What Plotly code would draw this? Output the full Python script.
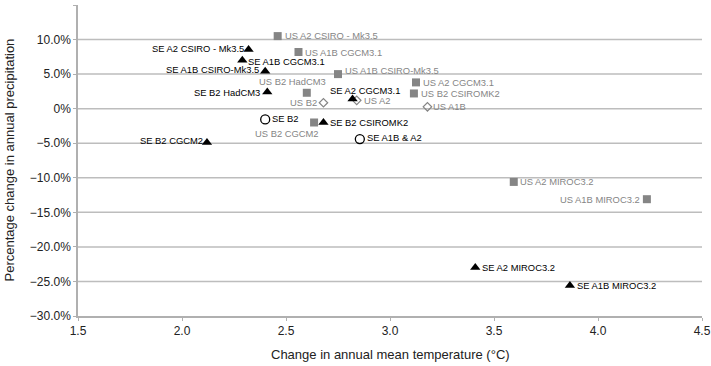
import plotly.graph_objects as go

# ---- data ----
us_sq_names = ["US A2 CSIRO - Mk3.5", "US A1B CGCM3.1", "US A1B CSIRO-Mk3.5", "US B2 HadCM3",
               "US A2 CGCM3.1", "US B2 CSIROMK2", "US B2 CGCM2", "US A2 MIROC3.2", "US A1B MIROC3.2"]
us_sq_temp = [2.46, 2.56, 2.75, 2.60, 3.125, 3.115, 2.635, 3.595, 4.235]
us_sq_prec = [10.5, 8.2, 5.0, 2.3, 3.8, 2.2, -2.0, -10.6, -13.1]

us_dm_names = ["US B2", "US A2", "US A1B"]
us_dm_temp = [2.68, 2.84, 3.18]
us_dm_prec = [0.85, 1.2, 0.27]

se_tri_names = ["SE A2 CSIRO - Mk3.5", "SE A1B CGCM3.1", "SE A1B CSIRO-Mk3.5", "SE B2 HadCM3",
                "SE A2 CGCM3.1", "SE B2 CSIROMK2", "SE B2 CGCM2", "SE A2 MIROC3.2", "SE A1B MIROC3.2"]
se_tri_temp = [2.32, 2.29, 2.40, 2.41, 2.82, 2.68, 2.12, 3.41, 3.865]
se_tri_prec = [8.55, 7.0, 5.4, 2.4, 1.4, -2.0, -4.9, -23.0, -25.6]

se_ci_names = ["SE B2", "SE A1B & A2"]
se_ci_temp = [2.40, 2.855]
se_ci_prec = [-1.55, -4.4]

y_tickvals = [15, 10, 5, 0, -5, -10, -15, -20, -25, -30]
y_ticktext = ["15.0%", "10.0%", "5.0%", "0%", "\u22125.0%", "\u221210.0%", "\u221215.0%",
              "\u221220.0%", "\u221225.0%", "\u221230.0%"]
y_gridvals = [10, 5, 0, -5, -10, -15, -20, -25]
x_tickvals = [1.5, 2.0, 2.5, 3.0, 3.5, 4.0, 4.5]
x_ticktext = ["1.5", "2.0", "2.5", "3.0", "3.5", "4.0", "4.5"]

x_title = "Change in annual mean temperature (\u00b0C)"
y_title = "Percentage change in annual precipitation"

# label placement: (side, xshift, yshift)
us_sq_place = [("r", 5, 1), ("r", 5, 0), ("r", 5, 4), ("tc", -14, 4), ("r", 5, 0), ("r", 5, 0),
               ("bc", -27, -4), ("r", 4, 0), ("l", -5, 0)]
us_dm_place = [("l", -4, 0), ("r", 5, 0), ("r", 4, 0)]
se_tri_place = [("l", -3, 1), ("r", 4, -1), ("l", -4, 2), ("l", -5, 0), ("tc", 12, 1), ("r", 5, 0),
                ("l", -2, 2), ("r", 5, 0), ("r", 5, 0)]
se_ci_place = [("r", 5, 1), ("r", 5, 2)]

GRAY = "#858585"
FONT = "Liberation Sans, Arial, sans-serif"

fig = go.Figure()
for gv in y_gridvals:
    fig.add_hline(y=gv, line=dict(color="#bdbdbd", width=1.5), layer="below")

fig.add_trace(go.Scatter(x=us_sq_temp, y=us_sq_prec, mode="markers",
                         marker=dict(symbol="square", size=8, color=GRAY), hoverinfo="skip"))
fig.add_trace(go.Scatter(x=us_dm_temp, y=us_dm_prec, mode="markers",
                         marker=dict(symbol="diamond-open", size=6.5, color=GRAY, line=dict(width=1.2)),
                         hoverinfo="skip"))
fig.add_trace(go.Scatter(x=se_tri_temp, y=se_tri_prec, mode="markers",
                         marker=dict(symbol="triangle-up", size=9, color="black"), hoverinfo="skip"))
fig.add_trace(go.Scatter(x=se_ci_temp, y=se_ci_prec, mode="markers",
                         marker=dict(symbol="circle-open", size=9, color="black", line=dict(width=1.3)),
                         hoverinfo="skip"))

def add_labels(names, xs, ys, places, color):
    for n, x, y, (side, dx, dy) in zip(names, xs, ys, places):
        if side == "r":
            xa, ya = "left", "middle"
        elif side == "l":
            xa, ya = "right", "middle"
        elif side == "tc":
            xa, ya = "center", "bottom"
        else:
            xa, ya = "center", "top"
        fig.add_annotation(x=x, y=y, text=n, showarrow=False, xanchor=xa, yanchor=ya,
                           xshift=dx, yshift=dy, font=dict(size=9.4, color=color, family=FONT))

add_labels(us_sq_names, us_sq_temp, us_sq_prec, us_sq_place, GRAY)
add_labels(us_dm_names, us_dm_temp, us_dm_prec, us_dm_place, GRAY)
add_labels(se_tri_names, se_tri_temp, se_tri_prec, se_tri_place, "black")
add_labels(se_ci_names, se_ci_temp, se_ci_prec, se_ci_place, "black")

# axis titles
fig.add_annotation(xref="paper", yref="paper", x=0.5, y=0, yshift=-29, xanchor="center", yanchor="top",
                   text=x_title, showarrow=False, font=dict(size=13, family=FONT, color="#222"))
fig.add_annotation(xref="paper", yref="paper", x=0, y=0.5, xshift=-69, xanchor="center", yanchor="middle",
                   text=y_title, textangle=-90, showarrow=False, font=dict(size=13, family=FONT, color="#222"))

fig.update_layout(
    width=711, height=366,
    margin=dict(l=78, r=9, t=5, b=50),
    paper_bgcolor="white", plot_bgcolor="white",
    showlegend=False,
    font=dict(family=FONT, color="black", size=12),
    xaxis=dict(range=[1.5, 4.5], tickvals=x_tickvals, ticktext=x_ticktext, automargin=False,
               showgrid=False, zeroline=False, showline=True, linecolor="#b0b0b0", linewidth=1.5,
               ticks="outside", ticklen=3, tickcolor="#b0b0b0",
               tickfont=dict(size=12, family=FONT, color="#222")),
    yaxis=dict(range=[-30, 15], tickvals=y_tickvals, ticktext=y_ticktext, automargin=False,
               showgrid=False, zeroline=False,
               showline=True, linecolor="#b0b0b0", linewidth=1.5,
               ticks="outside", ticklen=3, tickcolor="#b0b0b0",
               tickfont=dict(size=12, family=FONT, color="#222")),
)

fig.write_html("out.html", config={"displayModeBar": False},
               post_script="document.body.style.margin='0';document.body.style.overflow='hidden';")
